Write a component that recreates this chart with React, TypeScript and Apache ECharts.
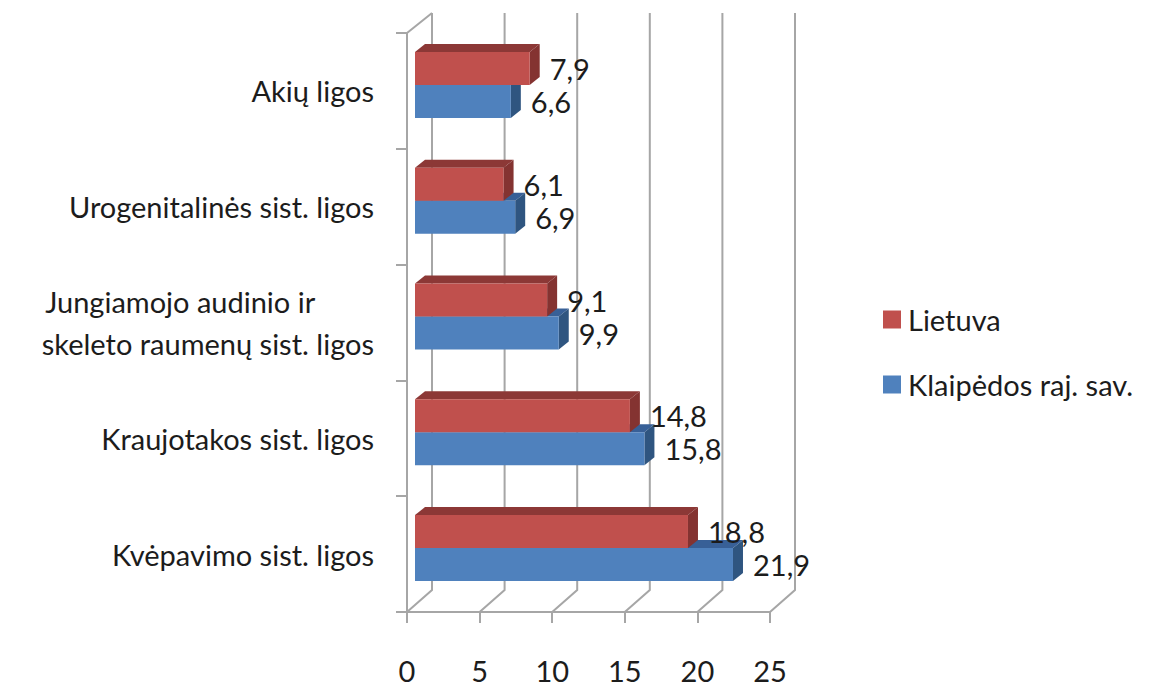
import React, { useEffect, useRef } from "react";
import * as echarts from "echarts";

const categories = [
  "Kvėpavimo sist. ligos",
  "Kraujotakos sist. ligos",
  "Jungiamojo audinio ir\u00a0\u00a0\u00a0\u00a0\u00a0\u00a0\u00a0\u00a0\nskeleto raumenų sist. ligos",
  "Urogenitalinės sist. ligos",
  "Akių ligos",
];
const klaipeda = [21.9, 15.8, 9.9, 6.9, 6.6];
const lietuva = [18.8, 14.8, 9.1, 6.1, 7.9];
const xTicks = [0, 5, 10, 15, 20, 25];

const FONT = "Lato";
const TEXT = "#1c1c1c";
const GRAY = "#a6a6a6";

const makeBars = (name: string, values: number[], front: string, top: string, side: string, dir: number, z: number) => ({
  name,
  type: "custom",
  z,
  itemStyle: { color: front },
  encode: { x: 0, y: 1 },
  data: values.map((v, i) => [v, i]),
  renderItem: (_p: any, api: any) => {
    const value = api.value(0);
    const [xEnd, yMid] = api.coord([value, api.value(1)]);
    const [x0] = api.coord([0, 0]);
    const inset = 8, h = 33, dx = 10, dy = 8, shift = -6;
    const left = x0 + inset;
    const right = xEnd + inset;
    const y0 = dir < 0 ? yMid + shift - h : yMid + shift;
    return {
      type: "group",
      children: [
        { type: "polygon", shape: { points: [[left, y0], [left + dx, y0 - dy], [right + dx, y0 - dy], [right, y0]] }, style: { fill: top } },
        { type: "polygon", shape: { points: [[right, y0], [right + dx, y0 - dy], [right + dx, y0 + h - dy], [right, y0 + h]] }, style: { fill: side } },
        { type: "rect", shape: { x: left, y: y0, width: right - left, height: h }, style: { fill: front } },
        {
          type: "text",
          x: right + dx + 10,
          y: y0 + h / 2,
          z2: 100,
          style: {
            text: String(value).replace(".", ","),
            fill: TEXT,
            font: `29px ${FONT}`,
            textAlign: "left",
            textVerticalAlign: "middle",
          },
        },
      ],
    };
  },
});

export default function App() {
  const ref = useRef<HTMLDivElement>(null);
  useEffect(() => {
    document.body.style.margin = "0";
    const chart = echarts.init(ref.current!, null, { renderer: "svg" });
    chart.setOption({
      animation: false,
      backgroundColor: "#ffffff",
      grid: { left: 407, right: 380, top: 33, bottom: 72 },
      legend: {
        data: ["Lietuva", "Klaipėdos raj. sav."],
        orient: "vertical",
        left: 878,
        top: 300,
        itemWidth: 18,
        itemHeight: 18,
        itemGap: 36,
        icon: "rect",
        textStyle: { fontFamily: FONT, fontSize: 29, color: TEXT, padding: [0, 0, 0, 2] },
        selectedMode: false,
      },
      xAxis: {
        type: "value",
        min: 0,
        max: 25,
        interval: 5,
        axisLine: { show: true, lineStyle: { color: GRAY, width: 2 } },
        axisTick: { show: true, length: 11, lineStyle: { color: GRAY, width: 2 } },
        splitLine: { show: false },
        axisLabel: { fontFamily: FONT, fontSize: 29, color: TEXT, margin: 44 },
      },
      yAxis: {
        type: "category",
        data: categories,
        axisLine: { show: true, lineStyle: { color: GRAY, width: 2 } },
        axisTick: { show: true, length: 11, lineStyle: { color: GRAY, width: 2 } },
        axisLabel: { fontFamily: FONT, fontSize: 29, color: TEXT, margin: 33, align: "right", padding: [8, 0, 0, 0], lineHeight: 42 },
      },
      series: [
        {
          type: "custom",
          name: "walls",
          z: 1,
          silent: true,
          encode: { x: 0 },
          data: xTicks.map((t) => [t]),
          renderItem: (params: any, api: any) => {
            const cs = params.coordSys;
            const [x] = api.coord([api.value(0), 0]);
            const bottom = cs.y + cs.height;
            const dx = 25, dy = 22;
            const children: any[] = [
              {
                type: "polyline",
                shape: { points: [[x, bottom], [x + dx, bottom - dy], [x + dx, cs.y - 20]] },
                style: { stroke: GRAY, lineWidth: 2, fill: "none" },
              },
            ];
            if (api.value(0) === 0) {
              children.push({
                type: "line",
                shape: { x1: x, y1: cs.y, x2: x + dx, y2: cs.y - 20 },
                style: { stroke: GRAY, lineWidth: 2 },
              });
            }
            return { type: "group", children };
          },
        },
        makeBars("Klaipėdos raj. sav.", klaipeda, "#4f81bd", "#386097", "#2f5580", 1, 2),
        makeBars("Lietuva", lietuva, "#c0504d", "#8c3836", "#843331", -1, 3),
      ],
    });
    return () => chart.dispose();
  }, []);
  return <div ref={ref} style={{ width: 1150, height: 685 }} />;
}
